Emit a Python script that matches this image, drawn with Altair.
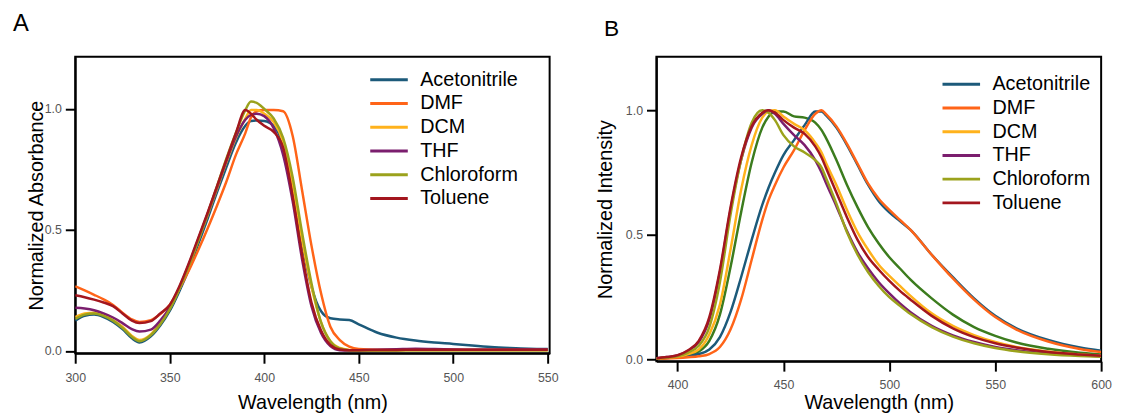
import altair as alt
import pandas as pd

FONT = "Liberation Sans"

solvents = ["Acetonitrile", "DMF", "DCM", "THF", "Chloroform", "Toluene"]
colors = ["#1c5a7a", "#ff6418", "#ffb21c", "#7b1e6e", "#9ba21c", "#a3161e"]
extra_color = "#3c7c1e"

# ---------------- Panel A: absorbance ----------------
abs_wl = [300, 305, 310, 315, 320, 325, 330, 334, 340, 345, 350, 355, 360, 365, 370, 375, 380, 385,
          390, 393, 396, 400, 405, 410, 415, 420, 425, 430, 435, 440, 445, 450, 460, 470, 480, 490,
          500, 510, 520, 530, 540, 550]
abs_acetonitrile = [.125, .145, .15, .14, .12, .09, .052, .035, .06, .105, .165, .245, .335, .44, .545, .655, .76, .86,
                    .93, .95, .952, .95, .93, .85, .67, .445, .265, .165, .135, .13, .128, .11, .075, .055, .043, .035,
                    .029, .022, .016, .012, .009, .008]
abs_dmf = [.267, .25, .232, .213, .19, .158, .13, .12, .127, .152, .19, .255, .33, .415, .505, .6, .70, .81,
           .9, .965, .99, .995, .995, .99, .89, .665, .435, .24, .10, .045, .018, .008, .005, .005, .005, .005,
           .005, .005, .005, .005, .005, .005]
abs_dcm = [.14, .155, .158, .148, .128, .1, .062, .045, .068, .115, .175, .255, .35, .455, .56, .67, .78, .88,
           .96, .995, .995, .98, .945, .865, .69, .46, .265, .12, .04, .012, .004, .002, .002, .002, .003, .003,
           .003, .003, .003, .003, .003, .003]
abs_thf = [.178, .175, .168, .155, .138, .115, .09, .08, .088, .125, .18, .26, .355, .46, .565, .675, .785, .885,
           .955, .975, .98, .97, .92, .81, .62, .38, .185, .075, .02, .003, .002, .003, .005, .007, .009, .008,
           .006, .005, .005, .005, .006, .006]
abs_chloroform = [.132, .15, .155, .145, .125, .095, .058, .04, .065, .11, .172, .255, .35, .455, .565, .68, .795, .9,
                  .995, 1.03, 1.025, 1.0, .96, .88, .72, .49, .28, .12, .04, .01, .003, .002, .002, .002, .003, .003,
                  .003, .003, .003, .003, .003, .003]
abs_toluene = [.23, .222, .212, .2, .185, .155, .125, .115, .123, .155, .19, .265, .36, .465, .57, .68, .79, .9,
               .995, .98, .955, .93, .905, .84, .64, .4, .2, .085, .025, .006, .003, .003, .004, .004, .005, .005,
               .005, .005, .005, .005, .005, .005]

# ---------------- Panel B: emission ----------------
em_wl = [390, 395, 400, 405, 410, 415, 420, 425, 430, 435, 440, 443, 446, 450, 455, 460, 465, 468, 470, 475,
         480, 485, 490, 495, 500, 505, 510, 520, 530, 540, 550, 560, 575, 590, 600]
em_acetonitrile = [.004, .006, .009, .014, .022, .04, .09, .19, .33, .48, .62, .69, .75, .82, .88, .94, .995, .995, .98, .93,
                   .86, .78, .70, .635, .59, .555, .52, .42, .33, .245, .175, .125, .078, .048, .035]
em_dmf = [.003, .004, .006, .009, .013, .022, .05, .12, .24, .40, .56, .64, .70, .77, .84, .92, .985, 1.0, .985, .935,
          .865, .785, .705, .645, .60, .56, .52, .42, .325, .24, .17, .12, .072, .042, .03]
em_dcm = [.004, .008, .012, .022, .04, .1, .22, .44, .68, .86, .97, .995, 1.0, .975, .945, .92, .87, .83, .79, .70,
          .60, .51, .44, .38, .335, .295, .255, .185, .135, .098, .07, .05, .032, .02, .015]
em_thf = [.005, .01, .016, .035, .07, .16, .35, .6, .8, .93, .985, 1.0, .985, .945, .90, .86, .80, .75, .71, .615,
          .515, .43, .365, .31, .265, .225, .19, .135, .097, .07, .05, .037, .024, .017, .013]
em_chloroform = [.004, .008, .013, .028, .055, .13, .31, .58, .80, .95, 1.0, .99, .96, .9, .855, .83, .80, .77, .73, .625,
                 .51, .42, .35, .295, .25, .215, .182, .13, .092, .065, .046, .033, .021, .014, .011]
em_toluene = [.005, .01, .017, .037, .075, .17, .36, .61, .81, .935, .99, 1.0, .99, .96, .93, .905, .855, .81, .77, .67,
              .57, .48, .41, .36, .315, .275, .24, .175, .125, .09, .065, .048, .03, .02, .015]
em_unlabeled = [.004, .007, .011, .018, .032, .075, .18, .37, .59, .79, .93, .975, .995, .995, .975, .97, .95, .92, .89, .80,
                .70, .61, .53, .465, .41, .365, .32, .245, .18, .13, .095, .068, .043, .027, .02]


def long_table(wl, names, series):
    rows = []
    for name, vals in zip(names, series):
        for w, v in zip(wl, vals):
            rows.append({"wavelength": w, "value": v, "solvent": name})
    return pd.DataFrame(rows)


df_abs = long_table(abs_wl, solvents, [abs_acetonitrile, abs_dmf, abs_dcm, abs_thf, abs_chloroform, abs_toluene])
df_em = long_table(em_wl, solvents, [em_acetonitrile, em_dmf, em_dcm, em_thf, em_chloroform, em_toluene])
df_extra = long_table(em_wl, ["unlabeled"], [em_unlabeled])

color_scale = alt.Scale(domain=solvents, range=colors)
frame = alt.ViewBackground(stroke="black", strokeWidth=2, fill="white")


def legend(lx, ly):
    return alt.Legend(orient="none", legendX=lx, legendY=ly, title=None, symbolType="stroke",
                      symbolSize=1444, symbolStrokeWidth=3, labelFontSize=20, labelFont=FONT,
                      labelColor="black", labelOffset=11, clipHeight=21.5, rowPadding=2, padding=0)


def x_axis(vals, ty):
    return alt.Axis(values=vals, format="d", title="Wavelength (nm)", titleY=ty,
                    titleBaseline="alphabetic", labelFlush=False)


def y_axis(title, tx, ty):
    return alt.Axis(values=[0, 0.5, 1.0], format=".1f", title=title, titleX=tx, titleY=ty,
                    titleBaseline="alphabetic", titleAngle=-90, titleAlign="center", labelPadding=4)


# Panel A
lines_a = alt.Chart(df_abs).mark_line(strokeWidth=2.5, interpolate="monotone", clip=True).encode(
    x=alt.X("wavelength:Q", scale=alt.Scale(domain=[300, 551], nice=False, zero=False),
            axis=x_axis([300, 350, 400, 450, 500, 550], 56)),
    y=alt.Y("value:Q", scale=alt.Scale(domain=[-0.01, 1.215], nice=False, zero=False),
            axis=y_axis("Normalized Absorbance", -33, 150)),
    color=alt.Color("solvent:N", scale=color_scale, sort=solvents, legend=legend(297, 12.5)),
)
label_a = alt.Chart(pd.DataFrame({"t": ["A"]})).mark_text(
    font=FONT, fontSize=24, align="left", baseline="alphabetic", color="black"
).encode(text="t:N", x=alt.value(-63), y=alt.value(-26))
panel_a = alt.layer(lines_a, label_a).properties(width=480, height=300, view=frame)

# Panel B
x_b = alt.X("wavelength:Q", scale=alt.Scale(domain=[390, 600], nice=False, zero=False),
            axis=x_axis([400, 450, 500, 550, 600], 48))
y_b = alt.Y("value:Q", scale=alt.Scale(domain=[-0.007, 1.214], nice=False, zero=False),
            axis=y_axis("Normalized Intensity", -45, 154))
extra_b = alt.Chart(df_extra).mark_line(strokeWidth=2.5, interpolate="monotone", clip=True,
                                        color=extra_color).encode(x=x_b, y=y_b)
lines_b = alt.Chart(df_em).mark_line(strokeWidth=2.5, interpolate="monotone", clip=True).encode(
    x=x_b, y=y_b,
    color=alt.Color("solvent:N", scale=color_scale, sort=solvents, legend=legend(288, 17)),
)
label_b = alt.Chart(pd.DataFrame({"t": ["B"]})).mark_text(
    font=FONT, fontSize=23, align="left", baseline="alphabetic", color="black"
).encode(text="t:N", x=alt.value(-53), y=alt.value(-21))
panel_b = alt.layer(extra_b, lines_b, label_b).properties(width=450, height=308, view=frame)

chart = alt.hconcat(panel_a, panel_b, spacing=36).resolve_scale(
    color="shared"
).resolve_legend(color="independent").properties(
    padding={"left": 4, "top": 1, "right": 0, "bottom": 0}, background="white"
).configure_view(
    stroke="black", strokeWidth=2
).configure_axis(
    domainColor="black", domainWidth=2, tickColor="black", tickWidth=2, tickSize=10,
    labelFont=FONT, labelFontSize=12.5, labelColor="#555555", labelPadding=8,
    titleFont=FONT, titleFontSize=20, titleFontWeight="normal", titleColor="black", grid=False
)

chart.save("out.html", embed_options={"renderer": "svg", "actions": False})
